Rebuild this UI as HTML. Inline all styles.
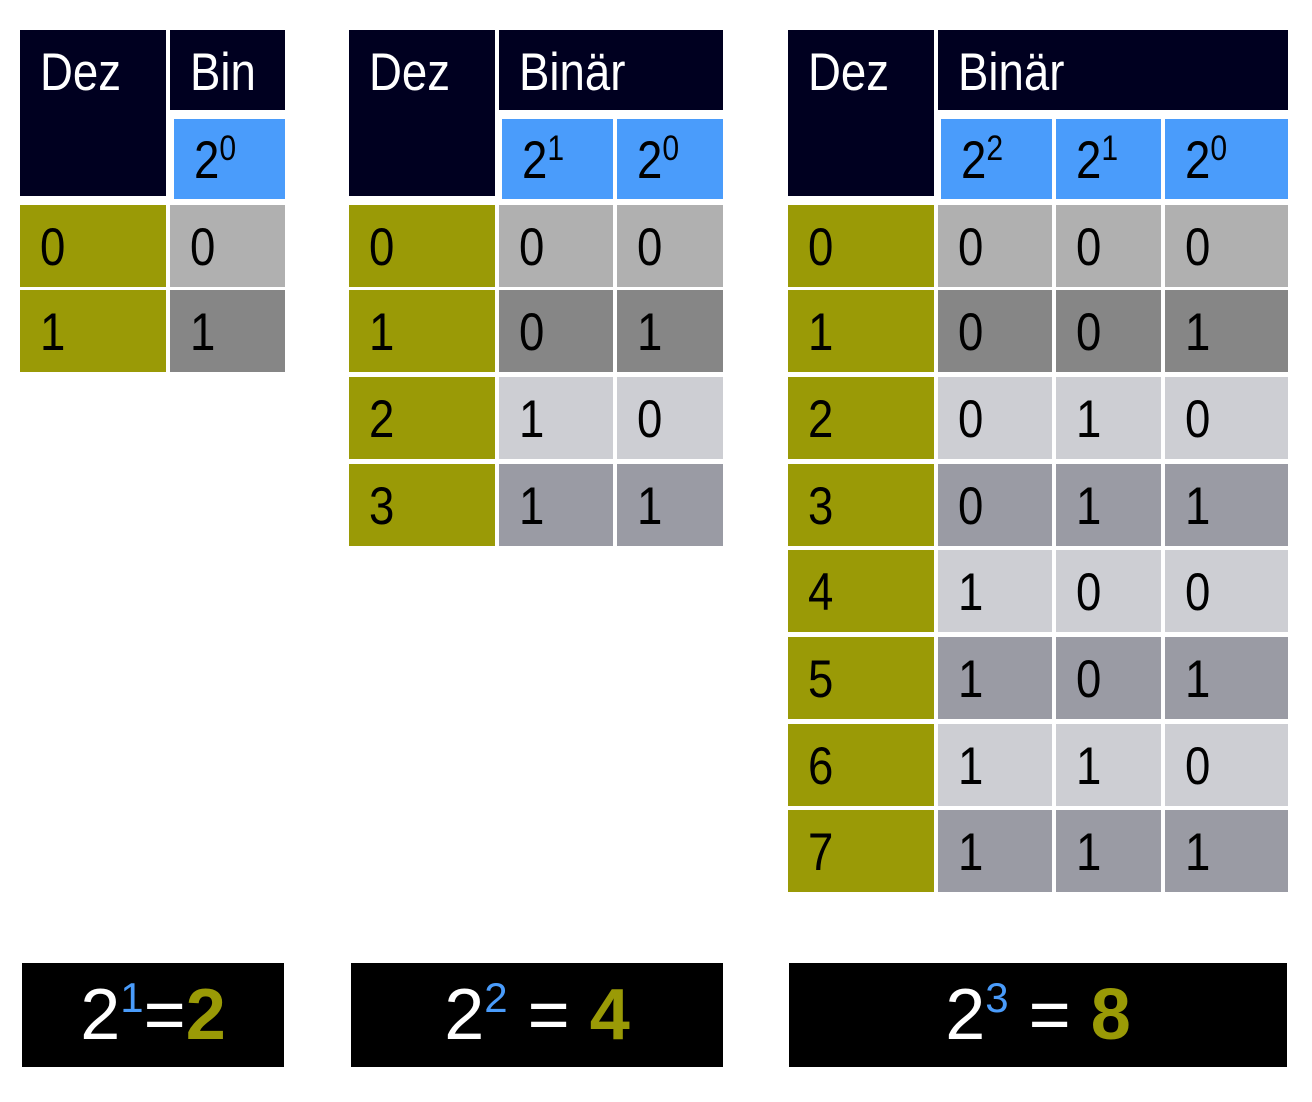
<!DOCTYPE html>
<html><head><meta charset="utf-8">
<style>
body{margin:0;width:1312px;height:1102px;background:#fff;position:relative;overflow:hidden;font-family:"Liberation Sans",Arial,sans-serif}
.c{position:absolute;box-sizing:border-box}
.t{position:absolute;left:20px;font-size:53px;line-height:1;white-space:nowrap;transform:scaleX(0.86);transform-origin:left top}
.t sup{font-size:35px;vertical-align:0;position:relative;top:-18px}
.box{position:absolute;background:#000;display:flex;align-items:center;justify-content:center;color:#fff;font-size:72px;line-height:1}
.box .e{color:#4a9cfb;font-size:42px;position:relative;top:-17px}
.box .r{color:#9a9a06;font-weight:bold}
</style></head><body>
<div id="root"></div>
<div class="box" style="left:22px;top:963px;width:262px;height:104px"><span>2</span><span class="e">1</span><span>=</span><span class="r">2</span></div>
<div class="box" style="left:351px;top:963px;width:372px;height:104px"><span>2</span><span class="e">2</span><span>&nbsp;=&nbsp;</span><span class="r">4</span></div>
<div class="box" style="left:789px;top:963px;width:498px;height:104px"><span>2</span><span class="e">3</span><span>&nbsp;=&nbsp;</span><span class="r">8</span></div>
<script>
const tables=[
 {x:20,bits:1,label:"Bin",cols:[[170,285]],blue:[[174,285]]},
 {x:349,bits:2,label:"Binär",cols:[[499,613],[617,723]],blue:[[502,613],[617,723]]},
 {x:788,bits:3,label:"Binär",cols:[[938,1052],[1056,1161],[1165,1288]],blue:[[941,1052],[1056,1161],[1165,1288]]}
];
const rowTops=[205,290,377,464,550,637,724,810];
const rowH=82;
const root=document.getElementById('root');
function cell(x,y,w,h,bg,txt,col,top,name){
 const d=document.createElement('div');d.className='c';
 d.style.cssText=`left:${x}px;top:${y}px;width:${w}px;height:${h}px;background:${bg}`;
 
 
 if(txt!==null){const s=document.createElement('span');s.className='t';s.style.top=top+'px';s.style.color=col;s.innerHTML=txt;d.appendChild(s);}
 root.appendChild(d);
}
function shade(r,bits){if(r===0)return '#b0b0b0';if(r===1)return '#868686';return r%2===0?'#cdced3':'#9a9ba4';}
tables.forEach((tb,ti)=>{
 const dezW=146;
 cell(tb.x,30,dezW,166,'#000020','Dez','#fff',16,'dez-header');
 const right=tb.cols[tb.cols.length-1][1];
 cell(tb.cols[0][0],30,right-tb.cols[0][0],80,'#000020',tb.label,'#fff',16,'binary-header');
 tb.blue.forEach((b,i)=>{cell(b[0],119,b[1]-b[0],80,'#4a9cfb','2<sup>'+(tb.bits-1-i)+'</sup>','#000',15,'power-header');});
 const n=1<<tb.bits;
 for(let r=0;r<n;r++){
  const y=rowTops[r];
  cell(tb.x,y,dezW,rowH,'#9a9a06',String(r),'#000',16,'dec-cell');
  tb.cols.forEach((c,i)=>{const bit=(r>>(tb.bits-1-i))&1;cell(c[0],y,c[1]-c[0],rowH,shade(r,tb.bits),String(bit),'#000',16,'bit-cell');});
 }
});
</script>
</body></html>
